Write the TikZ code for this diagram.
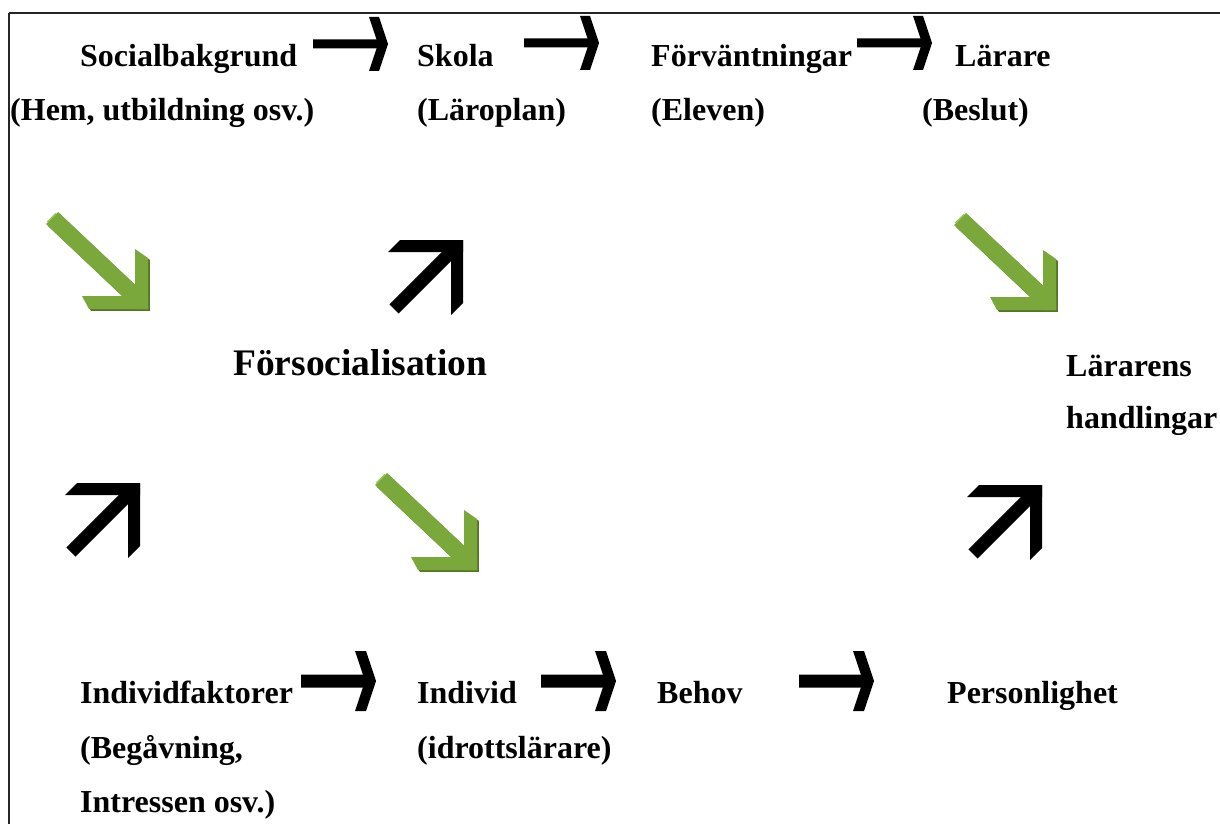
\documentclass[tikz,border=0pt]{standalone}
\usepackage{fontspec}
\setmainfont{Liberation Serif}
\definecolor{gmain}{RGB}{122,168,58}
\definecolor{gdark}{RGB}{86,118,40}
\definecolor{glight}{RGB}{156,196,92}
\tikzset{
  lbl/.style={anchor=base west, inner sep=0pt, font=\fontsize{32}{38}\selectfont\bfseries},
  biglbl/.style={anchor=base west, inner sep=0pt, font=\fontsize{37.5}{44}\selectfont\bfseries},
  frameline/.style={line width=2pt, black!85},
  toparrow/.pic={
    \fill[black] (-75,-4.5) -- (-11,-4.5) -- (-9,0) -- (-11,4.5) -- (-75,4.5) -- cycle;
    \fill[black] (-19,-27) -- (-9,-27) -- (0,0) -- (-9,27) -- (-19,27) -- (-10,0) -- cycle;
  },
  botarrow/.pic={
    \fill[black] (-75,-6.5) -- (-11,-6.5) -- (-9,0) -- (-11,6.5) -- (-75,6.5) -- cycle;
    \fill[black] (-21,-30) -- (-10,-30) -- (0,0) -- (-10,30) -- (-21,30) -- (-11,0) -- cycle;
  },
  blackup/.pic={
    \fill[black] (-63,0) -- (0,0) -- (0,12) -- (-75,12) -- cycle;
    \fill[black] (-12,0) -- (0,0) -- (0,63) -- (-12,75) -- cycle;
    \fill[black] (-1.4,10.6) -- (-64.4,73.6) -- (-73.6,64.4) -- (-10.6,1.4) -- cycle;
  },
  greenshape/.pic={
    \fill (-90,-97) -- (-1,-13) -- (-13,-1) -- (-102,-85) -- cycle;
    \fill (-13,-60) -- (0,-51) -- (0,0) -- (-13,0) -- cycle;
    \fill (-66,-13) -- (0,-13) -- (0,0) -- (-59,0) -- cycle;
  },
  greendown/.pic={
    \pic[gdark, shift={(1.8,1.8)}] {greenshape};
    \pic[gmain] {greenshape};
    \draw[glight, line width=1.5pt] (-100.5,-87) -- (-92,-95.5);
  }
}
\begin{document}
\begin{tikzpicture}[x=1pt, y=-1pt]
\useasboundingbox (0,0) rectangle (1220,824);
\fill[white] (0,0) rectangle (1220,824);
% frame
\draw[frameline] (9,13) -- (1220,13);
\draw[frameline] (9,13) -- (9,824);

% top row
\node[lbl] (soc) at (80,67) {Socialbakgrund};
\node[lbl] (hem) at (10,121) {(Hem, utbildning osv.)};
\node[lbl] (skola) at (417,67) {Skola};
\node[lbl] (laroplan) at (417,121) {(Läroplan)};
\node[lbl] (forv) at (651,67) {Förväntningar};
\node[lbl] (eleven) at (651,121) {(Eleven)};
\node[lbl] (larare) at (955,67) {Lärare};
\node[lbl] (beslut) at (922,121) {(Beslut)};

\pic at (388,44) {toparrow};
\pic at (599,43) {toparrow};
\pic at (932,43) {toparrow};

% middle
\node[biglbl] (forsoc) at (233,375) {Försocialisation};
\node[lbl] (lararens) at (1066,376) {Lärarens};
\node[lbl] (handl) at (1066,428) {handlingar};

\pic at (148,309) {greendown};
\pic at (1056,310) {greendown};
\pic at (477,570) {greendown};

\pic at (463,240) {blackup};
\pic at (140,483) {blackup};
\pic at (1042,485) {blackup};

% bottom row
\node[lbl] (indf) at (80,703) {Individfaktorer};
\node[lbl] (begav) at (80,758) {(Begåvning,};
\node[lbl] (intr) at (80,812) {Intressen osv.)};
\node[lbl] (individ) at (417,703) {Individ};
\node[lbl] (idrott) at (417,758) {(idrottslärare)};
\node[lbl] (behov) at (657,703) {Behov};
\node[lbl] (pers) at (947,703) {Personlighet};

\pic at (376,681) {botarrow};
\pic at (616,681) {botarrow};
\pic at (874,681) {botarrow};
\end{tikzpicture}
\end{document}
